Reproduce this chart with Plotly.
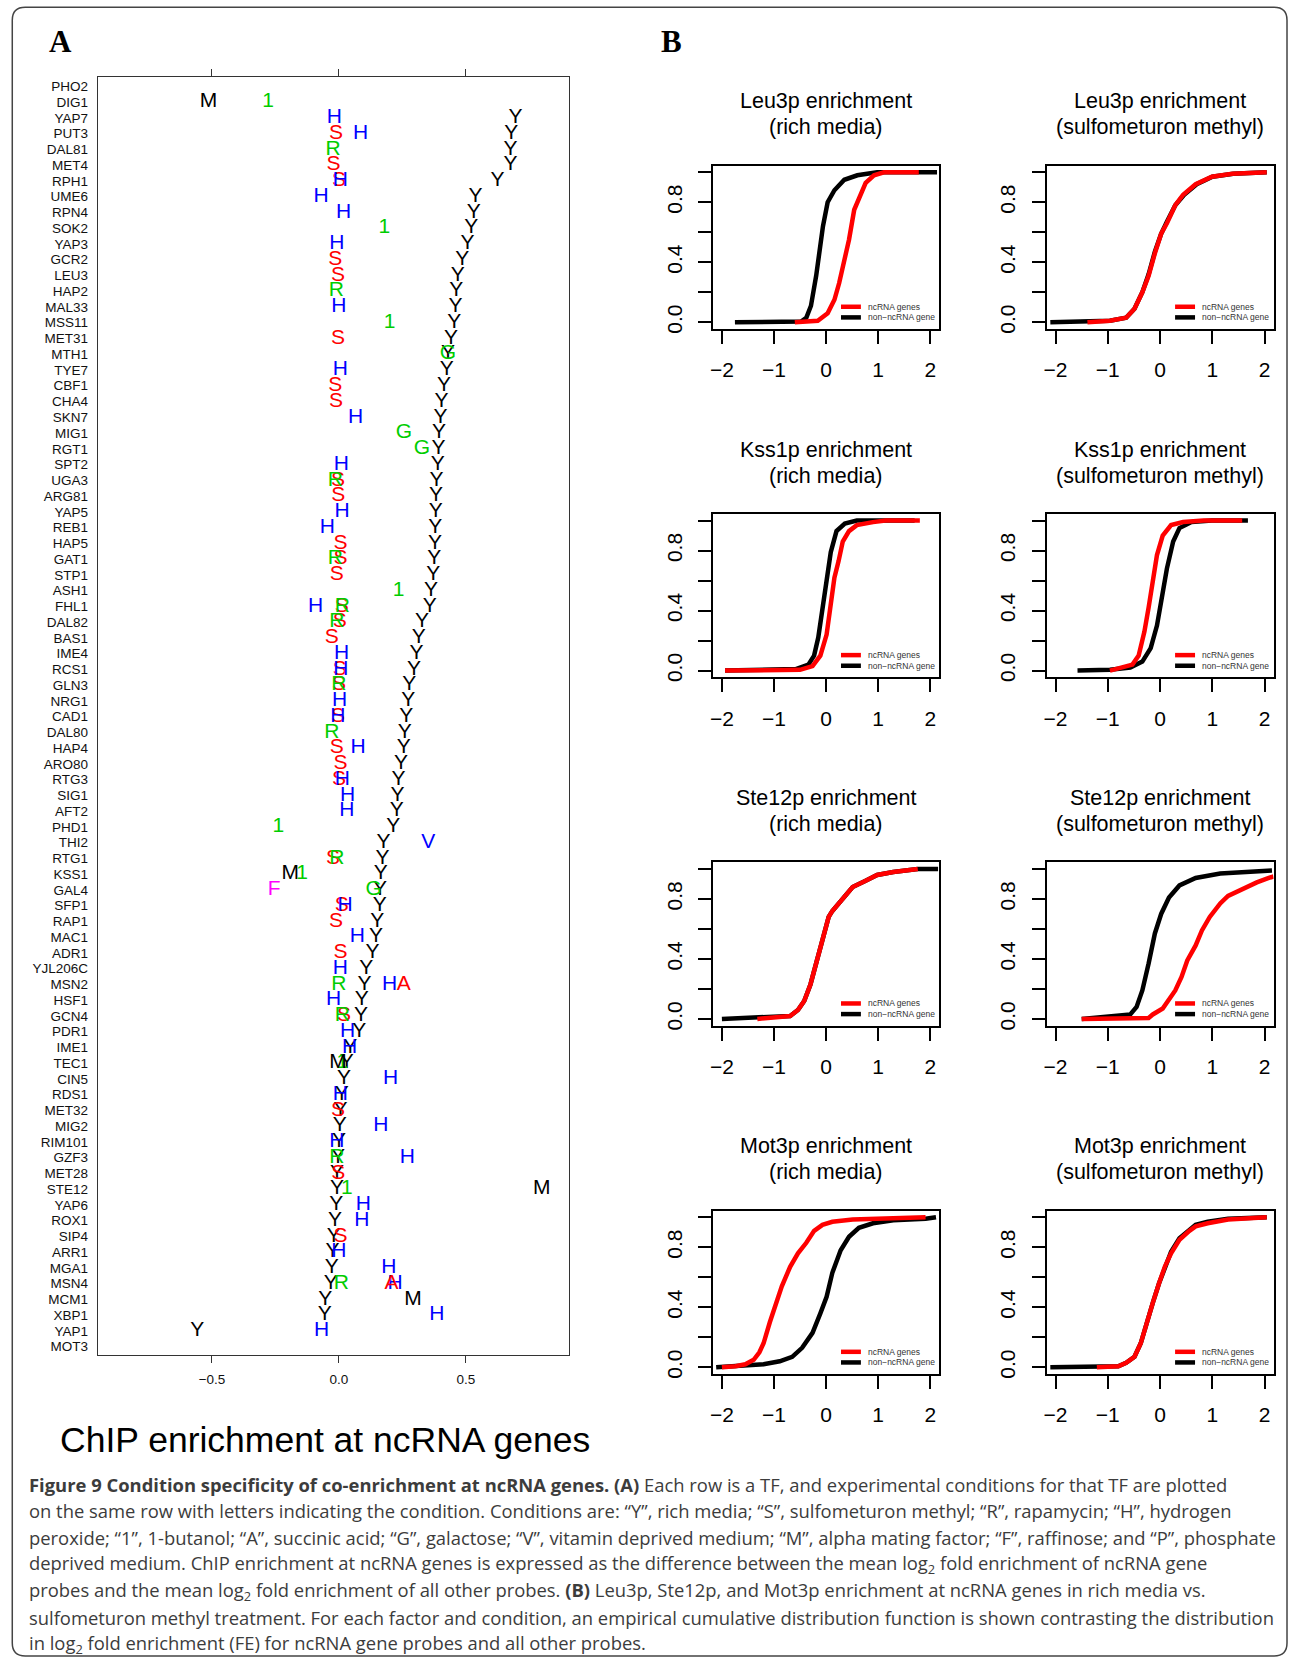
import plotly.graph_objects as go

W, H = 1290, 1663

# ---------------- Panel A data ----------------
tf_names = ["PHO2", "DIG1", "YAP7", "PUT3", "DAL81", "MET4", "RPH1", "UME6", "RPN4", "SOK2",
            "YAP3", "GCR2", "LEU3", "HAP2", "MAL33", "MSS11", "MET31", "MTH1", "TYE7", "CBF1",
            "CHA4", "SKN7", "MIG1", "RGT1", "SPT2", "UGA3", "ARG81", "YAP5", "REB1", "HAP5",
            "GAT1", "STP1", "ASH1", "FHL1", "DAL82", "BAS1", "IME4", "RCS1", "GLN3", "NRG1",
            "CAD1", "DAL80", "HAP4", "ARO80", "RTG3", "SIG1", "AFT2", "PHD1", "THI2", "RTG1",
            "KSS1", "GAL4", "SFP1", "RAP1", "MAC1", "ADR1", "YJL206C", "MSN2", "HSF1", "GCN4",
            "PDR1", "IME1", "TEC1", "CIN5", "RDS1", "MET32", "MIG2", "RIM101", "GZF3", "MET28",
            "STE12", "YAP6", "ROX1", "SIP4", "ARR1", "MGA1", "MSN4", "MCM1", "XBP1", "YAP1", "MOT3"]

Y_tfs = tf_names[2:80]
Y_vals = [0.696, 0.679, 0.676, 0.676, 0.625, 0.538, 0.531, 0.521, 0.507, 0.486,
          0.468, 0.462, 0.459, 0.454, 0.442, 0.430, 0.425, 0.414, 0.404, 0.400,
          0.394, 0.392, 0.389, 0.385, 0.383, 0.382, 0.380, 0.379, 0.376, 0.372,
          0.363, 0.358, 0.327, 0.315, 0.306, 0.296, 0.277, 0.273, 0.265, 0.259,
          0.256, 0.245, 0.235, 0.231, 0.228, 0.214, 0.176, 0.172, 0.165, 0.162,
          0.161, 0.151, 0.146, 0.132, 0.108, 0.101, 0.090, 0.087, 0.080, 0.045,
          0.031, 0.020, 0.011, 0.006, 0.003, 0.000, -0.004, -0.007, -0.007, -0.010,
          -0.015, -0.020, -0.025, -0.028, -0.032, -0.054, -0.056, -0.558]

S_tfs = ["PUT3", "MET4", "RPH1", "GCR2", "LEU3", "MET31", "CBF1", "CHA4", "UGA3", "ARG81",
         "HAP5", "GAT1", "STP1", "FHL1", "DAL82", "BAS1", "RCS1", "GLN3", "CAD1", "HAP4",
         "ARO80", "RTG3", "RTG1", "SFP1", "RAP1", "ADR1", "GCN4", "MET32", "MET28", "SIP4"]
S_vals = [-0.011, -0.021, 0.000, -0.014, -0.004, -0.004, -0.014, -0.011, -0.004, -0.003,
          0.006, 0.006, -0.008, 0.011, 0.003, -0.028, 0.003, 0.000, -0.004, -0.008,
          0.006, 0.000, -0.023, 0.011, -0.011, 0.006, 0.020, -0.004, -0.003, 0.006]

R_tfs = ["DAL81", "HAP2", "UGA3", "GAT1", "FHL1", "DAL82", "GLN3", "DAL80", "RTG1", "MSN2",
         "GCN4", "GZF3", "MSN4"]
R_vals = [-0.023, -0.010, -0.014, -0.014, 0.014, -0.008, 0.000, -0.028, -0.008, 0.000,
          0.014, -0.008, 0.010]

Hp_tfs = ["YAP7", "PUT3", "RPH1", "UME6", "RPN4", "YAP3", "MAL33", "TYE7", "SKN7", "SPT2",
          "YAP5", "REB1", "FHL1", "IME4", "RCS1", "NRG1", "CAD1", "HAP4", "RTG3", "SIG1",
          "AFT2", "SFP1", "MAC1", "YJL206C", "MSN2", "HSF1", "PDR1", "IME1", "CIN5", "RDS1",
          "MIG2", "RIM101", "GZF3", "YAP6", "ROX1", "ARR1", "MGA1", "MSN4", "XBP1", "YAP1"]
Hp_vals = [-0.018, 0.085, 0.006, -0.070, 0.018, -0.008, 0.000, 0.006, 0.066, 0.010,
           0.013, -0.046, -0.092, 0.011, 0.008, 0.003, -0.004, 0.076, 0.014, 0.034,
           0.031, 0.024, 0.073, 0.006, 0.200, -0.021, 0.034, 0.042, 0.204, 0.006,
           0.165, -0.008, 0.270, 0.096, 0.090, 0.000, 0.197, 0.221, 0.386, -0.068]

B1_tfs = ["DIG1", "SOK2", "MSS11", "ASH1", "PHD1", "KSS1", "TEC1", "STE12"]
B1_vals = [-0.279, 0.179, 0.200, 0.235, -0.239, -0.145, 0.014, 0.031]

A_tfs = ["MSN2", "MSN4"]
A_vals = [0.256, 0.207]

G_tfs = ["MTH1", "MIG1", "RGT1", "GAL4"]
G_vals = [0.430, 0.256, 0.327, 0.137]

V_tfs = ["THI2"]
V_vals = [0.352]

M_tfs = ["DIG1", "KSS1", "TEC1", "STE12", "MCM1"]
M_vals = [-0.514, -0.192, -0.004, 0.799, 0.292]

F_tfs = ["GAL4"]
F_vals = [-0.255]

conditions = [
    ("Y", "#000000", Y_tfs, Y_vals),
    ("S", "#FF0000", S_tfs, S_vals),
    ("R", "#00CD00", R_tfs, R_vals),
    ("H", "#0000FF", Hp_tfs, Hp_vals),
    ("1", "#00CD00", B1_tfs, B1_vals),
    ("A", "#FF0000", A_tfs, A_vals),
    ("G", "#00CD00", G_tfs, G_vals),
    ("V", "#0000FF", V_tfs, V_vals),
    ("M", "#000000", M_tfs, M_vals),
    ("F", "#FF00FF", F_tfs, F_vals),
]

a_ticks = [-0.5, 0.0, 0.5]
a_ticklabels = ["\u22120.5", "0.0", "0.5"]

# ---------------- Panel B data (ECDF curves) ----------------
ecdf_ticks_x = [-2, -1, 0, 1, 2]
ecdf_labeled_y = [0, 0.4, 0.8]
ecdf_ticklabels_y = ["0.0", "0.4", "0.8"]
ecdf_minor_step_y = 0.2

panel_titles = [
    ("Leu3p enrichment", "(rich media)"),
    ("Leu3p enrichment", "(sulfometuron methyl)"),
    ("Kss1p enrichment", "(rich media)"),
    ("Kss1p enrichment", "(sulfometuron methyl)"),
    ("Ste12p enrichment", "(rich media)"),
    ("Ste12p enrichment", "(sulfometuron methyl)"),
    ("Mot3p enrichment", "(rich media)"),
    ("Mot3p enrichment", "(sulfometuron methyl)"),
]

leu3_rich_bg_x = [-1.75, -0.48, -0.38, -0.29, -0.19, -0.13, -0.06, 0.03, 0.16, 0.35, 0.60, 0.98, 2.13]
leu3_rich_bg_y = [0, 0.005, 0.03, 0.11, 0.31, 0.48, 0.64, 0.80, 0.88, 0.95, 0.98, 1.0, 1.0]
leu3_rich_nc_x = [-0.60, -0.16, 0.03, 0.16, 0.25, 0.35, 0.44, 0.54, 0.64, 0.76, 0.92, 1.11, 1.78]
leu3_rich_nc_y = [0, 0.01, 0.06, 0.15, 0.26, 0.40, 0.55, 0.75, 0.84, 0.93, 0.98, 1.0, 1.0]

leu3_sm_bg_x = [-2.10, -0.96, -0.65, -0.49, -0.34, -0.22, -0.10, 0.02, 0.13, 0.29, 0.46, 0.70, 1.00, 1.40, 2.04]
leu3_sm_bg_y = [0, 0.01, 0.03, 0.09, 0.20, 0.32, 0.47, 0.59, 0.67, 0.78, 0.85, 0.92, 0.97, 0.99, 1.0]
leu3_sm_nc_x = [-1.39, -0.96, -0.65, -0.49, -0.34, -0.22, -0.10, 0.02, 0.13, 0.29, 0.44, 0.68, 0.99, 1.38, 2.04]
leu3_sm_nc_y = [0, 0.01, 0.03, 0.09, 0.20, 0.31, 0.46, 0.59, 0.66, 0.78, 0.85, 0.92, 0.97, 0.99, 1.0]

kss1_rich_bg_x = [-1.94, -0.58, -0.34, -0.23, -0.15, -0.07, 0.01, 0.09, 0.20, 0.36, 0.59, 1.70]
kss1_rich_bg_y = [0, 0.01, 0.04, 0.10, 0.22, 0.42, 0.64, 0.79, 0.93, 0.98, 1.0, 1.0]
kss1_rich_nc_x = [-1.94, -0.50, -0.26, -0.11, 0.01, 0.09, 0.16, 0.24, 0.32, 0.44, 0.59, 0.90, 1.14, 1.80]
kss1_rich_nc_y = [0, 0.005, 0.03, 0.10, 0.24, 0.42, 0.62, 0.73, 0.86, 0.93, 0.97, 0.99, 1.0, 1.0]

kss1_sm_bg_x = [-1.58, -0.96, -0.57, -0.34, -0.18, -0.06, 0.02, 0.13, 0.25, 0.37, 0.60, 0.99, 1.68]
kss1_sm_bg_y = [0, 0.005, 0.02, 0.06, 0.15, 0.30, 0.46, 0.68, 0.86, 0.95, 0.99, 1.0, 1.0]
kss1_sm_nc_x = [-0.96, -0.72, -0.53, -0.41, -0.30, -0.22, -0.14, -0.06, 0.05, 0.21, 0.44, 0.83, 1.57]
kss1_sm_nc_y = [0, 0.02, 0.04, 0.10, 0.26, 0.42, 0.62, 0.77, 0.90, 0.97, 0.99, 1.0, 1.0]

ste12_rich_bg_x = [-2.0, -0.96, -0.69, -0.54, -0.42, -0.30, -0.19, -0.07, 0.05, 0.12, 0.28, 0.51, 0.75, 0.98, 1.29, 1.76, 2.15]
ste12_rich_bg_y = [0, 0.01, 0.02, 0.06, 0.12, 0.23, 0.37, 0.52, 0.68, 0.72, 0.79, 0.88, 0.92, 0.96, 0.98, 1.0, 1.0]
ste12_rich_nc_x = [-1.32, -0.96, -0.69, -0.54, -0.42, -0.30, -0.19, -0.07, 0.05, 0.12, 0.28, 0.51, 0.75, 0.98, 1.29, 1.76]
ste12_rich_nc_y = [0, 0.01, 0.02, 0.06, 0.12, 0.23, 0.37, 0.53, 0.68, 0.72, 0.79, 0.88, 0.92, 0.96, 0.98, 1.0]

ste12_sm_bg_x = [-1.50, -0.72, -0.57, -0.45, -0.34, -0.22, -0.10, 0.02, 0.17, 0.37, 0.68, 1.15, 2.14]
ste12_sm_bg_y = [0, 0.02, 0.03, 0.08, 0.19, 0.37, 0.57, 0.70, 0.81, 0.89, 0.94, 0.97, 0.99]
ste12_sm_nc_x = [-1.50, -0.22, -0.14, 0.05, 0.17, 0.29, 0.41, 0.52, 0.68, 0.80, 0.95, 1.15, 1.30, 1.54, 1.85, 2.08, 2.17]
ste12_sm_nc_y = [0, 0.007, 0.03, 0.07, 0.13, 0.19, 0.28, 0.39, 0.49, 0.59, 0.68, 0.77, 0.82, 0.86, 0.91, 0.94, 0.95]

mot3_rich_bg_x = [-2.11, -1.59, -1.20, -0.89, -0.65, -0.46, -0.26, -0.11, 0.01, 0.12, 0.28, 0.44, 0.63, 0.90, 1.29, 1.91, 2.11]
mot3_rich_bg_y = [0, 0.01, 0.02, 0.04, 0.07, 0.13, 0.23, 0.36, 0.47, 0.63, 0.78, 0.87, 0.93, 0.96, 0.98, 0.99, 1.0]
mot3_rich_nc_x = [-2.0, -1.74, -1.55, -1.39, -1.28, -1.20, -1.08, -0.96, -0.85, -0.69, -0.54, -0.38, -0.23, -0.07, 0.12, 0.51, 1.14, 1.91]
mot3_rich_nc_y = [0, 0.007, 0.02, 0.05, 0.10, 0.16, 0.30, 0.43, 0.54, 0.67, 0.76, 0.83, 0.91, 0.95, 0.97, 0.985, 0.995, 1.0]

mot3_sm_bg_x = [-2.10, -0.80, -0.65, -0.49, -0.37, -0.26, -0.14, -0.02, 0.09, 0.21, 0.37, 0.56, 0.68, 0.91, 1.30, 2.04]
mot3_sm_bg_y = [0, 0.007, 0.03, 0.07, 0.16, 0.30, 0.43, 0.56, 0.67, 0.77, 0.86, 0.92, 0.95, 0.97, 0.99, 1.0]
mot3_sm_nc_x = [-1.21, -0.80, -0.65, -0.49, -0.37, -0.26, -0.14, -0.02, 0.09, 0.21, 0.37, 0.56, 0.68, 0.91, 1.30, 2.04]
mot3_sm_nc_y = [0, 0.007, 0.03, 0.07, 0.16, 0.30, 0.43, 0.56, 0.67, 0.76, 0.85, 0.91, 0.94, 0.96, 0.985, 1.0]

ecdf_panels = [
    (leu3_rich_bg_x, leu3_rich_bg_y, leu3_rich_nc_x, leu3_rich_nc_y),
    (leu3_sm_bg_x, leu3_sm_bg_y, leu3_sm_nc_x, leu3_sm_nc_y),
    (kss1_rich_bg_x, kss1_rich_bg_y, kss1_rich_nc_x, kss1_rich_nc_y),
    (kss1_sm_bg_x, kss1_sm_bg_y, kss1_sm_nc_x, kss1_sm_nc_y),
    (ste12_rich_bg_x, ste12_rich_bg_y, ste12_rich_nc_x, ste12_rich_nc_y),
    (ste12_sm_bg_x, ste12_sm_bg_y, ste12_sm_nc_x, ste12_sm_nc_y),
    (mot3_rich_bg_x, mot3_rich_bg_y, mot3_rich_nc_x, mot3_rich_nc_y),
    (mot3_sm_bg_x, mot3_sm_bg_y, mot3_sm_nc_x, mot3_sm_nc_y),
]
legend_labels = ["ncRNA genes", "non\u2212ncRNA gene"]

caption_lines = [
    "<b>Figure 9 Condition specificity of co-enrichment at ncRNA genes. (A)</b> Each row is a TF, and experimental conditions for that TF are plotted",
    "on the same row with letters indicating the condition. Conditions are: \u201cY\u201d, rich media; \u201cS\u201d, sulfometuron methyl; \u201cR\u201d, rapamycin; \u201cH\u201d, hydrogen",
    "peroxide; \u201c1\u201d, 1-butanol; \u201cA\u201d, succinic acid; \u201cG\u201d, galactose; \u201cV\u201d, vitamin deprived medium; \u201cM\u201d, alpha mating factor; \u201cF\u201d, raffinose; and \u201cP\u201d, phosphate",
    "deprived medium. ChIP enrichment at ncRNA genes is expressed as the difference between the mean log<sub>2</sub> fold enrichment of ncRNA gene",
    "probes and the mean log<sub>2</sub> fold enrichment of all other probes. <b>(B)</b> Leu3p, Ste12p, and Mot3p enrichment at ncRNA genes in rich media vs.",
    "sulfometuron methyl treatment. For each factor and condition, an empirical cumulative distribution function is shown contrasting the distribution",
    "in log<sub>2</sub> fold enrichment (FE) for ncRNA gene probes and all other probes.",
]

# ---------------- helpers ----------------
def px(x):
    return x / W


def py(y):
    return 1 - y / H


SANS = "Liberation Sans, Arial, sans-serif"
fig = go.Figure()

# ---------------- Panel A ----------------
row_index = {n: i for i, n in enumerate(tf_names)}
for letter, color, tfs, vals in conditions:
    fig.add_trace(go.Scatter(
        x=vals, y=[row_index[t] for t in tfs], mode="text",
        text=[letter] * len(tfs), textposition="middle center",
        textfont=dict(family=SANS, size=21, color=color),
        hoverinfo="skip", showlegend=False, xaxis="x", yaxis="y"))

A_left, A_right, A_top, A_bot = 95.0, 567.7, 77.3, 1359.3
fig.update_layout(
    xaxis=dict(domain=[px(A_left), px(A_right)], range=[-0.950, 0.908],
               tickvals=a_ticks, ticktext=a_ticklabels, ticks="outside", ticklen=7,
               tickwidth=1, tickcolor="#333333", showline=True, linecolor="#333333",
               linewidth=1, mirror="ticks", showgrid=False, zeroline=False,
               tickfont=dict(family=SANS, size=13.5, color="#111111"),
               ticklabelstandoff=5, anchor="y"),
    yaxis=dict(domain=[py(A_bot), py(A_top)], range=[80.54, -0.595],
               tickvals=list(range(len(tf_names))), ticktext=tf_names, ticks="",
               showline=True, linecolor="#333333", linewidth=1, mirror=True,
               showgrid=False, zeroline=False,
               tickfont=dict(family=SANS, size=13.5, color="#111111"),
               ticklabelstandoff=6, anchor="x"),
)

# ---------------- Panel B ----------------
col_left = [711.7, 1046.1]
col_right = [938.3, 1273.5]
row_top0, row_h, row_step = 166.0, 164.0, 349.4

annotations = []
shapes = []
for j, (bgx, bgy, ncx, ncy) in enumerate(ecdf_panels):
    r, c = divmod(j, 2)
    n = j + 2
    xa, ya = f"x{n}", f"y{n}"
    top = row_top0 + row_step * r
    bot = top + row_h
    fig.add_trace(go.Scatter(x=bgx, y=bgy, mode="lines", line=dict(color="#000000", width=4.5),
                             hoverinfo="skip", showlegend=False, xaxis=xa, yaxis=ya))
    fig.add_trace(go.Scatter(x=ncx, y=ncy, mode="lines", line=dict(color="#FF0000", width=4.5),
                             hoverinfo="skip", showlegend=False, xaxis=xa, yaxis=ya))
    fig.update_layout(**{
        f"xaxis{n}": dict(domain=[px(col_left[c]), px(col_right[c])], range=[-2.17, 2.17],
                          tickvals=ecdf_ticks_x, ticks="outside", ticklen=13, tickwidth=1.5,
                          tickcolor="#000000", showline=True, linecolor="#000000", linewidth=2,
                          mirror=True, showgrid=False, zeroline=False,
                          tickfont=dict(family=SANS, size=21, color="#000000"),
                          ticklabelstandoff=8, anchor=ya),
        f"yaxis{n}": dict(domain=[py(bot), py(top)], range=[-0.045, 1.045],
                          tickvals=ecdf_labeled_y, ticktext=ecdf_ticklabels_y, tickangle=-90,
                          ticks="outside", ticklen=13, tickwidth=1.5, tickcolor="#000000",
                          minor=dict(tick0=0, dtick=ecdf_minor_step_y, ticks="outside",
                                     ticklen=13, tickwidth=1.5, tickcolor="#000000",
                                     showgrid=False),
                          showline=True, linecolor="#000000", linewidth=2, mirror=True,
                          showgrid=False, zeroline=False,
                          tickfont=dict(family=SANS, size=21, color="#000000"),
                          ticklabelstandoff=8, anchor=xa),
    })
    cx = (col_left[c] + col_right[c]) / 2
    t1, t2 = panel_titles[j]
    annotations.append(dict(x=px(cx), y=py(101.7 + row_step * r), xref="paper", yref="paper",
                            text=t1, showarrow=False, xanchor="center", yanchor="middle",
                            font=dict(family=SANS, size=21.5, color="#000000")))
    annotations.append(dict(x=px(cx), y=py(127.7 + row_step * r), xref="paper", yref="paper",
                            text=t2, showarrow=False, xanchor="center", yanchor="middle",
                            font=dict(family=SANS, size=21.5, color="#000000")))
    # in-plot legend keys
    for k, (lab, col, yd) in enumerate([(legend_labels[0], "#FF0000", 0.136),
                                         (legend_labels[1], "#000000", 0.071)]):
        shapes.append(dict(type="line", xref=f"{xa} domain", yref=f"{ya} domain",
                           x0=0.566, x1=0.654, y0=yd, y1=yd,
                           line=dict(color=col, width=4.5)))
        annotations.append(dict(x=0.677, y=yd, xref=f"{xa} domain", yref=f"{ya} domain",
                                text=lab, showarrow=False, xanchor="left", yanchor="middle",
                                font=dict(family=SANS, size=8.5, color="#333333")))

# ---------------- labels, title, caption ----------------
annotations.append(dict(x=px(57.5), y=py(41.5), xref="paper", yref="paper", text="<b>A</b>",
                        showarrow=False, xanchor="center", yanchor="middle",
                        font=dict(family="Liberation Serif, Times New Roman, serif", size=31, color="#000000")))
annotations.append(dict(x=px(670.5), y=py(41.5), xref="paper", yref="paper", text="<b>B</b>",
                        showarrow=False, xanchor="center", yanchor="middle",
                        font=dict(family="Liberation Serif, Times New Roman, serif", size=31, color="#000000")))
annotations.append(dict(x=px(55), y=py(1444), xref="paper", yref="paper",
                        text="ChIP enrichment at ncRNA genes", showarrow=False,
                        xanchor="left", yanchor="middle",
                        font=dict(family=SANS, size=35.5, color="#000000")))
for k, line in enumerate(caption_lines):
    annotations.append(dict(x=px(24), y=py(1488.5 + 26.75 * k), xref="paper", yref="paper",
                            text=line, showarrow=False, xanchor="left", yanchor="middle",
                            font=dict(family="Open Sans, sans-serif", size=18.4, color="#3c3c3c")))

# rounded border around the whole figure
bx0, by0, bx1, by1, rad = 9.3, 7.3, 1287.0, 1661.0, 13.0
path = (f"M {px(bx0 + rad)},{py(by0)} L {px(bx1 - rad)},{py(by0)} "
        f"Q {px(bx1)},{py(by0)} {px(bx1)},{py(by0 + rad)} "
        f"L {px(bx1)},{py(by1 - rad)} Q {px(bx1)},{py(by1)} {px(bx1 - rad)},{py(by1)} "
        f"L {px(bx0 + rad)},{py(by1)} Q {px(bx0)},{py(by1)} {px(bx0)},{py(by1 - rad)} "
        f"L {px(bx0)},{py(by0 + rad)} Q {px(bx0)},{py(by0)} {px(bx0 + rad)},{py(by0)} Z")
shapes.append(dict(type="path", xref="paper", yref="paper", path=path,
                   line=dict(color="#444444", width=1.5), fillcolor="rgba(0,0,0,0)", layer="below"))

fig.update_layout(
    width=W, height=H, autosize=False,
    margin=dict(l=0, r=0, t=0, b=0, pad=0),
    paper_bgcolor="#FFFFFF", plot_bgcolor="#FFFFFF",
    showlegend=False,
    annotations=annotations, shapes=shapes,
    font=dict(family=SANS, color="#000000"),
)

fig.write_html("out.html")
